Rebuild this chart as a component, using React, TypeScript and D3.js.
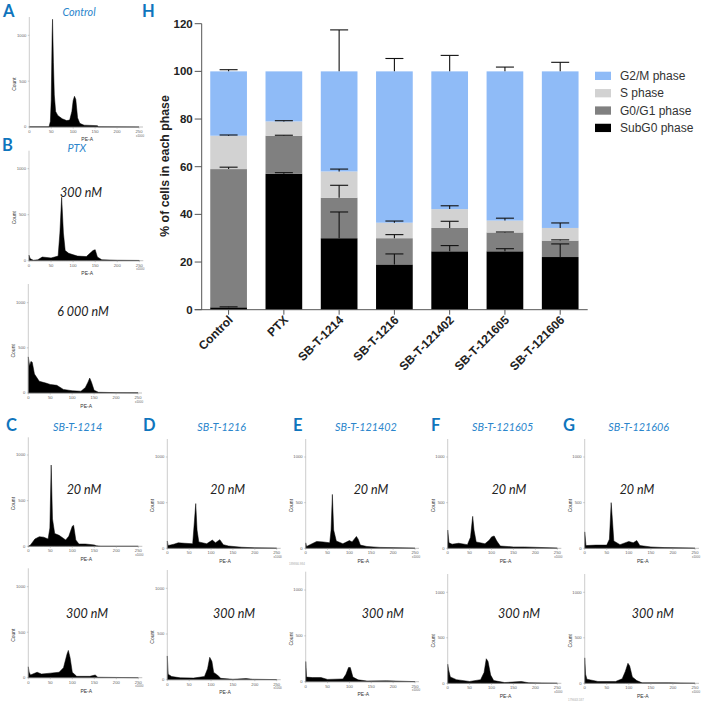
import React from "react";
import * as d3 from "d3";

// ---------- Stacked bar data ----------
const categories = ["Control", "PTX", "SB-T-1214", "SB-T-1216", "SB-T-121402", "SB-T-121605", "SB-T-121606"];
const phases = ["SubG0 phase", "G0/G1 phase", "S phase", "G2/M phase"];
const subG0 = [1, 57, 30, 19, 24.5, 24.5, 22.1];
const g0g1 = [58, 16, 17, 11, 9.8, 7.9, 6.9];
const sPhase = [14, 6, 11, 6.5, 7.9, 5, 5.3];
const g2m = [27, 21, 42, 63.5, 57.8, 62.6, 65.7];
const subG0Err = [0.2, 0.5, 11, 4.4, 2.4, 1.1, 5.5];
const g0g1Err = [0.8, 0.2, 5.2, 1.5, 2.8, 0.2, 0.3];
const sErr = [0.3, 0.3, 1, 0.7, 1.4, 1, 2.1];
const g2mErr = [0.7, 0, 17.4, 5.4, 6.7, 1.8, 3.8];
const yTicks = [0, 20, 40, 60, 80, 100, 120];

// ---------- Histogram data: [PE-A (x1000), count] ----------
type Pt = [number, number];
const histA: Pt[] = [[0, 2], [45, 2], [48, 60], [50, 300], [52, 1000], [53, 1175], [55, 700], [57, 350], [60, 170], [65, 125], [75, 90], [85, 70], [92, 75], [97, 170], [100, 290], [103, 335], [106, 300], [110, 100], [115, 40], [125, 20], [155, 15], [158, 2], [250, 0]];
const histB1: Pt[] = [[0, 60], [3, 20], [10, 5], [20, 10], [30, 40], [50, 30], [66, 50], [70, 300], [74, 690], [78, 300], [82, 110], [90, 80], [110, 50], [130, 45], [138, 80], [145, 110], [150, 120], [155, 40], [165, 10], [200, 5], [250, 3]];
const histB2: Pt[] = [[0, 400], [3, 300], [6, 350], [9, 340], [14, 210], [25, 130], [40, 110], [50, 95], [65, 85], [80, 40], [100, 25], [120, 20], [130, 60], [136, 120], [140, 165], [144, 120], [150, 30], [160, 8], [200, 4], [250, 2]];
const histC1: Pt[] = [[0, 0], [5, 15], [15, 80], [25, 105], [35, 100], [45, 80], [49, 200], [52, 890], [55, 300], [60, 140], [70, 120], [85, 70], [92, 110], [100, 220], [103, 230], [108, 70], [115, 25], [130, 25], [150, 15], [155, 5], [165, 0], [250, 0]];
const histC2: Pt[] = [[0, 120], [2, 60], [5, 30], [20, 60], [30, 40], [50, 50], [70, 60], [80, 110], [88, 260], [91, 300], [95, 220], [100, 60], [110, 15], [140, 15], [152, 30], [158, 5], [250, 0]];
const histD1: Pt[] = [[0, 80], [2, 30], [15, 45], [25, 60], [40, 55], [58, 50], [62, 300], [65, 490], [68, 200], [72, 70], [90, 50], [103, 90], [110, 60], [120, 95], [128, 40], [140, 25], [170, 12], [200, 5], [250, 2]];
const histD2: Pt[] = [[0, 260], [2, 60], [10, 35], [30, 20], [60, 18], [85, 35], [92, 120], [97, 245], [102, 200], [106, 80], [115, 50], [122, 15], [150, 5], [180, 12], [195, 5], [250, 1]];
const histE1: Pt[] = [[0, 60], [2, 20], [10, 40], [25, 75], [40, 70], [55, 60], [58, 200], [61, 590], [64, 200], [70, 80], [85, 50], [100, 85], [106, 70], [116, 130], [120, 100], [125, 35], [140, 20], [170, 10], [250, 2]];
const histE2: Pt[] = [[0, 220], [2, 50], [15, 45], [35, 45], [50, 25], [85, 30], [92, 80], [98, 155], [102, 155], [108, 50], [120, 20], [140, 8], [185, 10], [250, 1]];
const histF1: Pt[] = [[0, 200], [3, 60], [10, 45], [25, 55], [45, 40], [52, 120], [57, 350], [60, 200], [65, 70], [85, 50], [95, 90], [100, 125], [106, 135], [112, 80], [120, 25], [150, 15], [175, 15], [250, 3]];
const histF2: Pt[] = [[0, 210], [2, 150], [6, 70], [20, 40], [50, 20], [75, 40], [83, 120], [88, 270], [92, 240], [98, 90], [105, 30], [130, 8], [168, 20], [185, 5], [250, 1]];
const histG1: Pt[] = [[0, 180], [3, 30], [25, 35], [50, 35], [56, 100], [60, 500], [63, 300], [66, 80], [80, 40], [100, 75], [110, 60], [118, 85], [125, 30], [150, 15], [180, 8], [250, 2]];
const histG2: Pt[] = [[0, 280], [2, 100], [5, 45], [30, 20], [70, 20], [85, 50], [92, 130], [98, 220], [102, 190], [108, 70], [118, 30], [130, 5], [190, 5], [250, 1]];
const peTicks = [0, 50, 100, 150, 200, 250];
const countTicks = [0, 500, 1000];

// ---------- Layout ----------
const panels = [
  { d: histA, x0: 29.3, x1: 139, y0: 127, y1: 35.3, top: 17, lab: 141 },
  { d: histB1, x0: 29, x1: 139.3, y0: 260.7, y1: 168.7, top: 150.7, lab: 275 },
  { d: histB2, x0: 28.3, x1: 138, y0: 393, y1: 302.7, top: 284, lab: 408 },
  { d: histC1, x0: 28.3, x1: 138.3, y0: 546.3, y1: 455, top: 437.3, lab: 561 },
  { d: histC2, x0: 28.3, x1: 138.3, y0: 677.7, y1: 586.7, top: 568.3, lab: 692.7 },
  { d: histD1, x0: 167.3, x1: 276.7, y0: 548.3, y1: 457, top: 439, lab: 562.7 },
  { d: histD2, x0: 167.3, x1: 276.7, y0: 679.7, y1: 588.3, top: 570, lab: 694.3 },
  { d: histE1, x0: 305.7, x1: 415, y0: 548.3, y1: 457, top: 439, lab: 562.7 },
  { d: histE2, x0: 305.7, x1: 415, y0: 681.7, y1: 590, top: 571.7, lab: 696 },
  { d: histF1, x0: 447.7, x1: 557.3, y0: 548.3, y1: 457, top: 439, lab: 562.7 },
  { d: histF2, x0: 447.7, x1: 557.3, y0: 683.3, y1: 592.3, top: 574, lab: 698 },
  { d: histG1, x0: 584.7, x1: 695, y0: 548.3, y1: 457, top: 439, lab: 562.7 },
  { d: histG2, x0: 584.7, x1: 695, y0: 683.3, y1: 592.3, top: 574, lab: 698 },
];
const panelLetters: [string, number, number][] = [
  ["A", 3, 17], ["H", 142, 17], ["B", 2, 151], ["C", 6, 431], ["D", 143, 431], ["E", 293, 431], ["F", 431, 431], ["G", 563, 431],
];
const titles: [string, number, number][] = [
  ["Control", 79, 16], ["PTX", 76.7, 152], ["SB-T-1214", 77.7, 431], ["SB-T-1216", 221.7, 431], ["SB-T-121402", 366, 431], ["SB-T-121605", 502.7, 431], ["SB-T-121606", 638.7, 431],
];
const doses: [string, number, number][] = [
  ["300 nM", 81, 197], ["6 000 nM", 83, 316],
  ["20 nM", 84, 494], ["300 nM", 87, 618],
  ["20 nM", 227.7, 494], ["300 nM", 234, 618],
  ["20 nM", 371, 494], ["300 nM", 382.7, 618],
  ["20 nM", 509, 494], ["300 nM", 519, 618],
  ["20 nM", 637, 494], ["300 nM", 652.7, 618],
];
const phaseColors: Record<string, string> = {
  "SubG0 phase": "#000000",
  "G0/G1 phase": "#808080",
  "S phase": "#D2D2D2",
  "G2/M phase": "#8FBBF7",
};

const LETTER_BLUE = "#0F75BD";
const TITLE_BLUE = "#2A85CC";
const SANS = "'Liberation Sans', Arial, sans-serif";
const HUMAN = "Lato, 'Open Sans', sans-serif";

function Hist({ p }: { p: (typeof panels)[number] }) {
  const x = d3.scaleLinear().domain([0, 250]).range([p.x0, p.x1]);
  const y = d3.scaleLinear().domain([0, 1000]).range([p.y0, p.y1]);
  const area = d3.area<Pt>().x((d) => x(d[0])).y0(p.y0).y1((d) => y(d[1]));
  const grey = "#666";
  return (
    <g>
      <path d={area(p.d) ?? ""} fill="#000" stroke="#000" strokeWidth={0.5} />
      <line x1={p.x0} x2={p.x0} y1={p.top} y2={p.y0} stroke="#aaa" strokeWidth={0.6} />
      <line x1={p.x0} x2={p.x1 + 4} y1={p.y0} y2={p.y0} stroke="#999" strokeWidth={0.6} />
      {countTicks.map((t) => (
        <g key={t}>
          <line x1={p.x0 - 1.5} x2={p.x0} y1={y(t)} y2={y(t)} stroke="#999" strokeWidth={0.5} />
          <text x={p.x0 - 3} y={y(t) + 1.4} fontSize={4.2} fill={grey} textAnchor="end" fontFamily={SANS}>{t}</text>
        </g>
      ))}
      {peTicks.map((t) => (
        <g key={t}>
          <line x1={x(t)} x2={x(t)} y1={p.y0} y2={p.y0 + 1.5} stroke="#999" strokeWidth={0.5} />
          <text x={x(t)} y={p.y0 + 6} fontSize={4.2} fill={grey} textAnchor="middle" fontFamily={SANS}>{t}</text>
        </g>
      ))}
      <text x={p.x1 + 1} y={p.y0 + 9.5} fontSize={3} fill={grey} textAnchor="middle" fontFamily={SANS}>x1000</text>
      <text x={(p.x0 + p.x1) / 2 + 3} y={p.lab} fontSize={5} fill="#333" textAnchor="middle" fontFamily={SANS}>PE-A</text>
      <text transform={`translate(${p.x0 - 13},${(p.y0 + p.y1) / 2 + 3}) rotate(-90)`} fontSize={5} fill="#333" textAnchor="middle" fontFamily={SANS}>Count</text>
    </g>
  );
}

function Bars() {
  const left = 201.7;
  const right = 587.7;
  const x = d3.scalePoint<string>().domain(categories).range([228.6, 560.2]);
  const y = d3.scaleLinear().domain([0, 120]).range([309.7, 23.7]);
  const barW = 36.7;
  const rows = categories.map((c, i) => ({
    c,
    "SubG0 phase": subG0[i],
    "G0/G1 phase": g0g1[i],
    "S phase": sPhase[i],
    "G2/M phase": g2m[i],
  }));
  const stack = d3.stack<any>().keys(phases)(rows);
  const errs = [subG0Err, g0g1Err, sErr, g2mErr];
  const axis = "#555";
  return (
    <g>
      {stack.map((s) => (
        <g key={s.key}>
          {s.map((d, i) => (
            <rect key={i} x={x(categories[i])! - barW / 2} width={barW} y={y(d[1])} height={y(d[0]) - y(d[1])} fill={phaseColors[s.key]} />
          ))}
        </g>
      ))}
      {stack.map((s, k) => (
        <g key={s.key} stroke="#111" strokeWidth={1.1}>
          {s.map((d, i) => {
            const e = errs[k][i];
            if (e <= 0) return null;
            const cx = x(categories[i])!;
            return (
              <g key={i}>
                <line x1={cx} x2={cx} y1={y(d[1])} y2={y(d[1] + e)} />
                <line x1={cx - 9} x2={cx + 9} y1={y(d[1] + e)} y2={y(d[1] + e)} />
              </g>
            );
          })}
        </g>
      ))}
      <line x1={left} x2={left} y1={y(120)} y2={y(0)} stroke={axis} strokeWidth={1} />
      <line x1={left - 7} x2={right} y1={y(0)} y2={y(0)} stroke={axis} strokeWidth={1} />
      {yTicks.map((t) => (
        <g key={t}>
          <line x1={left - 7} x2={left} y1={y(t)} y2={y(t)} stroke={axis} strokeWidth={1} />
          <text x={left - 9} y={y(t) + 4} textAnchor="end" fontSize={11.5} fontWeight={700} fill="#222" fontFamily={SANS}>{t}</text>
        </g>
      ))}
      {categories.map((c) => (
        <g key={c}>
          <line x1={x(c)} x2={x(c)} y1={y(0)} y2={y(0) + 5} stroke={axis} strokeWidth={1} />
          <text transform={`translate(${x(c)! + 5},${y(0) + 11}) rotate(-45)`} textAnchor="end" fontSize={12} fontWeight={700} fill="#222" fontFamily={SANS}>{c}</text>
        </g>
      ))}
      <text transform={`translate(169,166) rotate(-90)`} textAnchor="middle" fontSize={12.3} fontWeight={700} fill="#222" fontFamily={SANS}>% of cells in each phase</text>
      {[...phases].reverse().map((p, i) => (
        <g key={p} transform={`translate(595,${71.7 + i * 17.35})`}>
          <rect width={16} height={8.3} fill={phaseColors[p]} />
          <text x={25} y={8.3} fontSize={12} fill="#333" fontFamily={SANS}>{p}</text>
        </g>
      ))}
    </g>
  );
}

export default function App() {
  return (
    <svg width={702} height={704} viewBox="0 0 702 704" style={{ position: "absolute", left: 0, top: 0, background: "#fff" }}>
      {panels.map((p, i) => <Hist key={i} p={p} />)}
      <Bars />
      {panelLetters.map(([t, x, y]) => (
        <text key={t} x={x} y={y} fontSize={16.5} fontWeight={700} fill={LETTER_BLUE} fontFamily={HUMAN}>{t}</text>
      ))}
      {titles.map(([t, x, y]) => (
        <text key={t} x={x} y={y} fontSize={10.8} fontStyle="italic" textAnchor="middle" fill={TITLE_BLUE} fontFamily={HUMAN}>{t}</text>
      ))}
      {doses.map(([t, x, y], i) => (
        <text key={i} x={x} y={y} fontSize={12.5} fontStyle="italic" textAnchor="middle" fill="#222" fontFamily={HUMAN}>{t}</text>
      ))}
      <text x={289} y={565} fontSize={3} fill="#aaa" fontFamily={SANS}>189866.984</text>
      <text x={568} y={701} fontSize={3} fill="#aaa" fontFamily={SANS}>179663.587</text>
    </svg>
  );
}
